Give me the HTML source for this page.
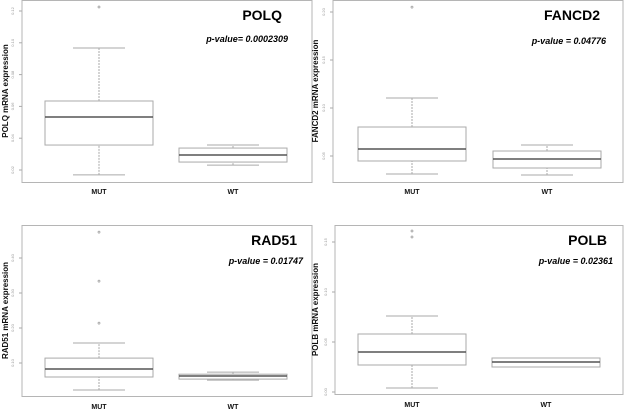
<!DOCTYPE html>
<html><head><meta charset="utf-8">
<style>
body{margin:0;background:#fff;width:625px;height:411px;overflow:hidden}
svg{display:block;font-family:"Liberation Sans",sans-serif}
</style></head>
<body>
<svg id="chart" width="625" height="411"></svg>
<script>
// Tick labels per panel
const polqTicks = [0.02, 0.04, 0.06, 0.08, 0.10, 0.12];
const fancd2Ticks = [0.05, 0.10, 0.15, 0.20];
const rad51Ticks = [0.1, 0.2, 0.3, 0.4];
const polbTicks = [0.00, 0.05, 0.10, 0.15];
// Five-number summaries: [low whisker, Q1, median, Q3, high whisker]
const polqMut = [0.0169, 0.0357, 0.0533, 0.0634, 0.0967];
const polqWt = [0.0231, 0.025, 0.0294, 0.0338, 0.0357];
const polqOut = [0.1225];
const fancd2Mut = [0.0313, 0.0448, 0.0573, 0.0802, 0.1104];
const fancd2Wt = [0.0302, 0.0375, 0.0469, 0.0552, 0.0615];
const fancd2Out = [0.2051];
const rad51Mut = [0.023, 0.06, 0.083, 0.114, 0.157];
const rad51Wt = [0.051, 0.054, 0.063, 0.068, 0.074];
const rad51Out = [0.474, 0.334, 0.214];
const polbMut = [0.004, 0.027, 0.040, 0.058, 0.076];
const polbWt = [0.025, 0.025, 0.030, 0.034, 0.034];
const polbOut = [0.161, 0.155];
const groups = ["MUT", "WT"];

const NS = "http://www.w3.org/2000/svg";
const svg = document.getElementById("chart");
function mk(tag, attrs, parent){const e=document.createElementNS(NS,tag);for(const k in attrs)e.setAttribute(k,attrs[k]);(parent||svg).appendChild(e);return e;}

const panels = [
 {name:"polq", gene:"POLQ", p:"p-value= 0.0002309", ylab:"POLQ mRNA expression", fx0:22, fx1:312, fy0:0, fy1:182,
  t0y:170, t1y:11, ticks:polqTicks, mut:polqMut, wt:polqWt, out:polqOut, cx:[99,233], bw:54, titleX:282, titleY:20, pY:42, labX:8, xlabY:194},
 {name:"fancd2", gene:"FANCD2", p:"p-value = 0.04776", ylab:"FANCD2 mRNA expression", fx0:333, fx1:623, fy0:0, fy1:182,
  t0y:156, t1y:12, ticks:fancd2Ticks, mut:fancd2Mut, wt:fancd2Wt, out:fancd2Out, cx:[412,547], bw:54, titleX:600, titleY:20, pY:44, labX:318, xlabY:194},
 {name:"rad51", gene:"RAD51", p:"p-value = 0.01747", ylab:"RAD51 mRNA expression", fx0:22, fx1:312, fy0:225, fy1:396,
  t0y:363, t1y:258, ticks:rad51Ticks, mut:rad51Mut, wt:rad51Wt, out:rad51Out, cx:[99,233], bw:54, titleX:297, titleY:245, pY:264, labX:8, xlabY:409},
 {name:"polb", gene:"POLB", p:"p-value = 0.02361", ylab:"POLB mRNA expression", fx0:335, fx1:623, fy0:225, fy1:394,
  t0y:392, t1y:242, ticks:polbTicks, mut:polbMut, wt:polbWt, out:polbOut, cx:[412,546], bw:54, titleX:607, titleY:245, pY:264, labX:318, xlabY:407}
];

panels.forEach(P=>{
  const g = mk("g",{});
  
  
  const tMin=P.ticks[0], tMax=P.ticks[P.ticks.length-1];
  const y = v => P.t0y + (v - tMin)/(tMax - tMin)*(P.t1y - P.t0y);
  const frame = mk("rect",{x:P.fx0,y:P.fy0+0.5,width:P.fx1-P.fx0,height:P.fy1-P.fy0,fill:"none",stroke:"#b5b5b5","stroke-width":1},g);
  
  
  P.ticks.forEach(t=>{
    const ty=y(t);
    const tk=mk("line",{x1:P.fx0-3,x2:P.fx0,y1:ty,y2:ty,stroke:"#aaa"},g);
    
    
    const tl=mk("text",{x:P.fx0-8,y:ty,"font-size":4,fill:"#999","text-anchor":"middle",transform:`rotate(-90 ${P.fx0-8} ${ty})`},g);
    tl.textContent=t.toFixed(2);
    
    
  });
  const cy=(P.fy0+P.fy1)/2;
  const yl=mk("text",{x:P.labX,y:cy,"font-size":8,"font-weight":"bold","text-anchor":"middle",fill:"#111",transform:`rotate(-90 ${P.labX} ${cy})`},g);
  yl.textContent=P.ylab;
  
  
  [P.mut,P.wt].forEach((s,i)=>{
    const c=P.cx[i], h=P.bw, cap=26;
    const stroke="#aaa";
    const w1=mk("line",{x1:c,x2:c,y1:y(s[0]),y2:y(s[1]),stroke,"stroke-dasharray":"2,1"},g);
    
    
    const w2=mk("line",{x1:c,x2:c,y1:y(s[3]),y2:y(s[4]),stroke,"stroke-dasharray":"2,1"},g);
    
    
    [s[0],s[4]].forEach(v=>{
      const cp=mk("line",{x1:c-cap,x2:c+cap,y1:y(v),y2:y(v),stroke},g);
      
      
    });
    const b=mk("rect",{x:c-h,y:y(s[3]),width:2*h,height:y(s[1])-y(s[3]),fill:"#fff",stroke:"#aaa"},g);
    
    
    const m=mk("line",{x1:c-h,x2:c+h,y1:y(s[2]),y2:y(s[2]),stroke:"#555","stroke-width":1.5},g);
    
    
    const xl=mk("text",{x:c,y:P.xlabY,"font-size":7,"font-weight":"bold","text-anchor":"middle",fill:"#111"},g);
    xl.textContent=groups[i];
    
    
  });
  P.out.forEach(v=>{
    const o=mk("circle",{cx:P.cx[0],cy:y(v),r:1,fill:"none",stroke:"#999","stroke-width":0.7},g);
    
    
  });
  const tt=mk("text",{x:P.titleX,y:P.titleY,"font-size":14,"font-weight":"bold","text-anchor":"end",fill:"#000"},g);
  tt.textContent=P.gene;
  
  
  const pv=mk("text",{x:P.titleX+6,y:P.pY,"font-size":9,"font-weight":"bold","font-style":"italic","text-anchor":"end",fill:"#000"},g);
  pv.textContent=P.p;
  
  
});
</script>
</body></html>
